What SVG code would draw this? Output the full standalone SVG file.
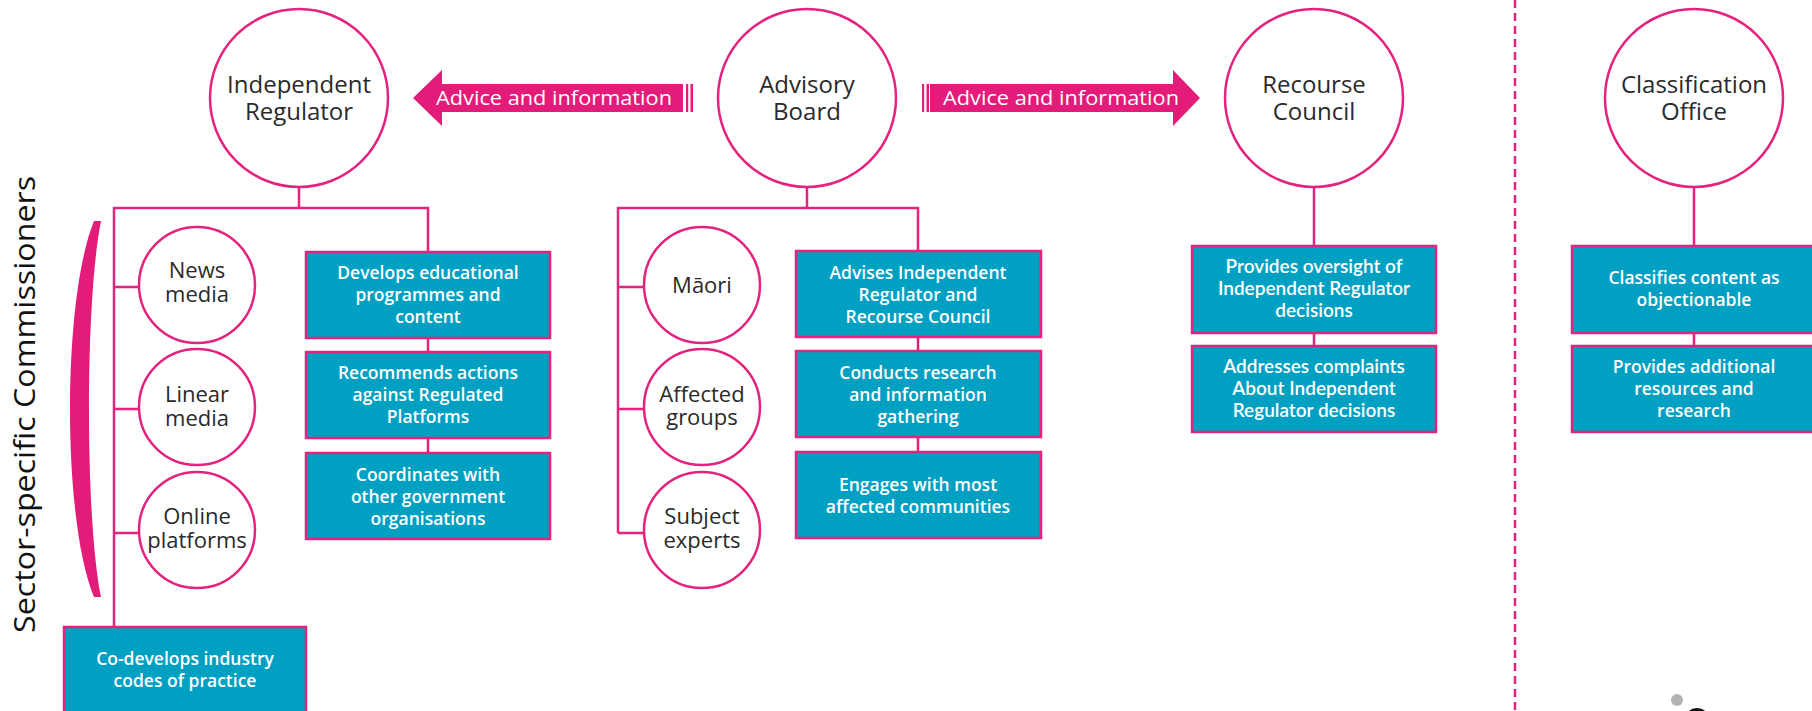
<svg xmlns="http://www.w3.org/2000/svg" width="1812" height="711" viewBox="0 0 1812 711">
  <style>
    .bubble { fill: #ffffff; stroke: #e3237e; stroke-width: 2.5; }
    .card { fill: #00a0c3; stroke: #e3237e; stroke-width: 2.5; }
    .link { fill: none; stroke: #e3237e; stroke-width: 2.5; }
    .arrow { fill: #e31c79; }
    .stripe { fill: #e31c79; }
    .label { font-family: "Open Sans", "Liberation Sans", sans-serif; font-size: 24px; fill: #2a2a2a; text-anchor: middle; }
    .small { font-size: 22px; }
    .card-text { font-family: "Open Sans", "Liberation Sans", sans-serif; font-weight: 600; font-size: 17.5px; fill: #ffffff; text-anchor: middle; }
    .card-alt { font-family: "Lato", "Liberation Sans", sans-serif; font-weight: 600; font-size: 19px; fill: #ffffff; text-anchor: middle; }
    .arrow-text { font-family: "Open Sans", "Liberation Sans", sans-serif; font-size: 20px; fill: #ffffff; }
    .side { font-family: "Open Sans", "Liberation Sans", sans-serif; font-size: 30px; fill: #111111; }
  </style>

  <rect width="1812" height="711" fill="#ffffff"/>

  <!-- divider between the regulatory bodies and the Classification Office -->
  <line x1="1515" y1="0" x2="1515" y2="711" stroke="#e3237e" stroke-width="2.5" stroke-dasharray="8 5"/>

  <!-- connectors -->
  <g id="connectors">
    <!-- Independent Regulator tree -->
    <path class="link" d="M299,187 V208"/>
    <path class="link" d="M114,627 V208 H428 V252"/>
    <path class="link" d="M114,287 H139 M114,409 H139 M114,533 H139"/>
    <path class="link" d="M428,338 V352 M428,438 V453"/>
    <!-- Advisory Board tree -->
    <path class="link" d="M807,187 V208"/>
    <path class="link" d="M618,533 V208 H918 V251"/>
    <path class="link" d="M618,287 H644 M618,409 H644 M618,533 H644"/>
    <path class="link" d="M918,337 V351 M918,437 V452"/>
    <!-- Recourse Council -->
    <path class="link" d="M1314,188 V246 M1314,333 V346"/>
    <!-- Classification Office -->
    <path class="link" d="M1694,188 V246 M1694,333 V346"/>

    <!-- advice flows out of the Advisory Board -->
    <g id="arrow-left">
      <polygon class="arrow" points="413,98 442,70 442,84 683,84 683,112 442,112 442,126"/>
      <rect class="stripe" x="686" y="84" width="2.2" height="28"/>
      <rect class="stripe" x="690.5" y="84" width="2.5" height="28"/>
      <text class="arrow-text" x="436" y="105" textLength="236" lengthAdjust="spacingAndGlyphs">Advice and information</text>
    </g>
    <g id="arrow-right">
      <rect class="stripe" x="922" y="84" width="2.2" height="28"/>
      <rect class="stripe" x="926.5" y="84" width="2.5" height="28"/>
      <polygon class="arrow" points="930,84 1173,84 1173,70 1200,98 1173,126 1173,112 930,112"/>
      <text class="arrow-text" x="943" y="105" textLength="236" lengthAdjust="spacingAndGlyphs">Advice and information</text>
    </g>
  </g>

  <!-- top-level bodies -->
  <g id="independent-regulator">
    <circle class="bubble" cx="299" cy="98" r="89"/>
    <text class="label" x="299" y="93">Independent<tspan x="299" dy="27">Regulator</tspan></text>
  </g>
  <g id="advisory-board">
    <circle class="bubble" cx="807" cy="98" r="89"/>
    <text class="label" x="807" y="93">Advisory<tspan x="807" dy="27">Board</tspan></text>
  </g>
  <g id="recourse-council">
    <circle class="bubble" cx="1314" cy="98" r="89"/>
    <text class="label" x="1314" y="93">Recourse<tspan x="1314" dy="27">Council</tspan></text>
  </g>
  <g id="classification-office">
    <circle class="bubble" cx="1694" cy="98" r="89"/>
    <text class="label" x="1694" y="93">Classification<tspan x="1694" dy="27">Office</tspan></text>
  </g>

  <!-- sector-specific commissioners -->
  <g id="sector-bracket">
    <path d="M94,221 L101,221 C 85,300 85,520 101,597 L94,597 C 62,520 62,300 94,221 Z" fill="#e31c79"/>
    <text class="side" transform="translate(35,633) rotate(-90)" textLength="457" lengthAdjust="spacingAndGlyphs">Sector-specific Commissioners</text>
  </g>
  <g id="news-media">
    <circle class="bubble" cx="197" cy="285" r="58"/>
    <text class="label small" x="197" y="278">News<tspan x="197" dy="24">media</tspan></text>
  </g>
  <g id="linear-media">
    <circle class="bubble" cx="197" cy="407" r="58"/>
    <text class="label small" x="197" y="402">Linear<tspan x="197" dy="24">media</tspan></text>
  </g>
  <g id="online-platforms">
    <circle class="bubble" cx="197" cy="530" r="58"/>
    <text class="label small" x="197" y="524">Online<tspan x="197" dy="24">platforms</tspan></text>
  </g>

  <!-- Independent Regulator functions -->
  <g id="ir-education">
    <rect class="card" x="306" y="252" width="244" height="86"/>
    <text class="card-text" x="428" y="279">Develops educational<tspan x="428" dy="22">programmes and</tspan><tspan x="428" dy="22">content</tspan></text>
  </g>
  <g id="ir-actions">
    <rect class="card" x="306" y="352" width="244" height="86"/>
    <text class="card-text" x="428" y="379">Recommends actions<tspan x="428" dy="22">against Regulated</tspan><tspan x="428" dy="22">Platforms</tspan></text>
  </g>
  <g id="ir-coordination">
    <rect class="card" x="306" y="453" width="244" height="86"/>
    <text class="card-text" x="428" y="481">Coordinates with<tspan x="428" dy="22">other government</tspan><tspan x="428" dy="22">organisations</tspan></text>
  </g>
  <g id="ir-codes">
    <rect class="card" x="64" y="627" width="242" height="110"/>
    <text class="card-text" x="185" y="665">Co-develops industry<tspan x="185" dy="22">codes of practice</tspan></text>
  </g>

  <!-- Advisory Board membership -->
  <g id="maori">
    <circle class="bubble" cx="702" cy="285" r="58"/>
    <text class="label small" x="702" y="293">Māori</text>
  </g>
  <g id="affected-groups">
    <circle class="bubble" cx="702" cy="407" r="58"/>
    <text class="label small" x="702" y="402">Affected<tspan x="702" dy="23">groups</tspan></text>
  </g>
  <g id="subject-experts">
    <circle class="bubble" cx="702" cy="530" r="58"/>
    <text class="label small" x="702" y="524">Subject<tspan x="702" dy="24">experts</tspan></text>
  </g>

  <!-- Advisory Board functions -->
  <g id="ab-advises">
    <rect class="card" x="796" y="251" width="245" height="86"/>
    <text class="card-text" x="918" y="279">Advises Independent<tspan x="918" dy="22">Regulator and</tspan><tspan x="918" dy="22">Recourse Council</tspan></text>
  </g>
  <g id="ab-research">
    <rect class="card" x="796" y="351" width="245" height="86"/>
    <text class="card-text" x="918" y="379">Conducts research<tspan x="918" dy="22">and information</tspan><tspan x="918" dy="22">gathering</tspan></text>
  </g>
  <g id="ab-engages">
    <rect class="card" x="796" y="452" width="245" height="86"/>
    <text class="card-text" x="918" y="491">Engages with most<tspan x="918" dy="22">affected communities</tspan></text>
  </g>

  <!-- Recourse Council functions -->
  <g id="rc-oversight">
    <rect class="card" x="1192" y="246" width="244" height="87"/>
    <text class="card-alt" x="1314" y="273">Provides oversight of<tspan x="1314" dy="22">Independent Regulator</tspan><tspan x="1314" dy="22">decisions</tspan></text>
  </g>
  <g id="rc-complaints">
    <rect class="card" x="1192" y="346" width="244" height="86"/>
    <text class="card-alt" x="1314" y="373">Addresses complaints<tspan x="1314" dy="22">About Independent</tspan><tspan x="1314" dy="22">Regulator decisions</tspan></text>
  </g>

  <!-- Classification Office functions -->
  <g id="co-classifies">
    <rect class="card" x="1572" y="246" width="245" height="87"/>
    <text class="card-text" x="1694" y="284">Classifies content as<tspan x="1694" dy="22">objectionable</tspan></text>
  </g>
  <g id="co-resources">
    <rect class="card" x="1572" y="346" width="245" height="86"/>
    <text class="card-text" x="1694" y="373">Provides additional<tspan x="1694" dy="22">resources and</tspan><tspan x="1694" dy="22">research</tspan></text>
  </g>

  <!-- edge of the mark at the lower right -->
  <circle cx="1677" cy="700" r="6" fill="#b3b3b3"/>
  <circle cx="1697" cy="721" r="13" fill="#111111"/>
</svg>
